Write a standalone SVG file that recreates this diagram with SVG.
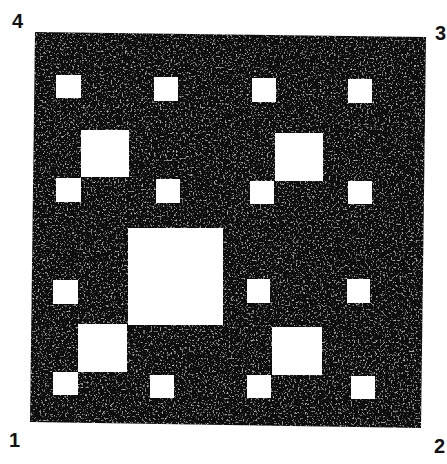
<svg xmlns="http://www.w3.org/2000/svg" width="447" height="464" viewBox="0 0 447 464">
  <defs>
    <filter id="speckle" x="0" y="0" width="100%" height="100%">
      <feTurbulence type="fractalNoise" baseFrequency="0.55" numOctaves="2" seed="3" result="n"/>
      <feColorMatrix in="n" type="matrix" values="0 0 0 0 1  0 0 0 0 1  0 0 0 0 1  0 0 0 2.2 -1.3" result="dots"/>
      <feComposite in="dots" in2="SourceGraphic" operator="in" result="clip"/>
      <feMerge><feMergeNode in="SourceGraphic"/><feMergeNode in="clip"/></feMerge>
    </filter>
  </defs>
  <style>
    .board { fill: #111111; }
    .hole { fill: #ffffff; }
    .lbl { font-family: "Liberation Sans", Arial, sans-serif; font-weight: bold; font-size: 20px; fill: #111111; }
  </style>
  <rect width="447" height="464" fill="#ffffff"/>
  <g id="carpet">
    <polygon class="board" points="35,32 426,37 421,428 30,422" filter="url(#speckle)"/>
    <g id="holes">
      <rect class="hole" x="56" y="75" width="25" height="23"/>
      <rect class="hole" x="154" y="77" width="24" height="24"/>
      <rect class="hole" x="252" y="78" width="24" height="24"/>
      <rect class="hole" x="348" y="79" width="24" height="24"/>
      <rect class="hole" x="81" y="130" width="48" height="47"/>
      <rect class="hole" x="275" y="133" width="48" height="48"/>
      <rect class="hole" x="56" y="178" width="25" height="24"/>
      <rect class="hole" x="156" y="179" width="24" height="24"/>
      <rect class="hole" x="250" y="181" width="24" height="23"/>
      <rect class="hole" x="348" y="181" width="24" height="23"/>
      <rect class="hole" x="128" y="228" width="95" height="97"/>
      <rect class="hole" x="53" y="280" width="25" height="24"/>
      <rect class="hole" x="247" y="279" width="23" height="24"/>
      <rect class="hole" x="347" y="279" width="23" height="24"/>
      <rect class="hole" x="78" y="324" width="49" height="48"/>
      <rect class="hole" x="272" y="327" width="50" height="48"/>
      <rect class="hole" x="53" y="372" width="25" height="23"/>
      <rect class="hole" x="150" y="375" width="24" height="23"/>
      <rect class="hole" x="247" y="375" width="24" height="23"/>
      <rect class="hole" x="351" y="376" width="24" height="23"/>
    </g>
  </g>
  <g id="labels">
    <text class="lbl" x="12" y="28">4</text>
    <text class="lbl" x="435" y="40">3</text>
    <text class="lbl" x="9" y="447">1</text>
    <text class="lbl" x="434" y="453">2</text>
  </g>
</svg>
